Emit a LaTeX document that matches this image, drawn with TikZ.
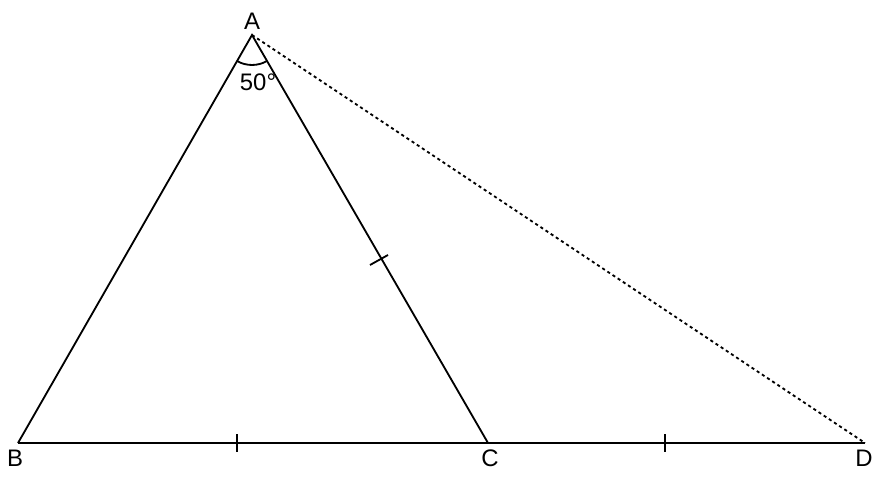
\documentclass[tikz,border=0pt]{standalone}
\usepackage{fontspec}
\setmainfont{Liberation Sans}
\usetikzlibrary{calc}

\begin{document}
\begin{tikzpicture}[x=0.025cm, y=-0.025cm, font=\fontsize{17}{19}\selectfont, line width=1.3pt]
        \useasboundingbox (0, 0) rectangle (878, 484);

        % Points of the figure
        \coordinate (A) at (252, 35);
        \coordinate (B) at (18, 443);
        \coordinate (C) at (488, 443);
        \coordinate (D) at (865, 443);

        % Draw the triangle and the extension
        \draw (B) -- (A) -- (C);
        \draw (B) -- (D);
        \draw[dash pattern=on 2.2pt off 2.2pt] (A) -- (D);

        % Angle at A
        \draw ($(A)+(240.2:30 and -30)$) arc[start angle=240.2, end angle=300, x radius=30, y radius=-30];
        \node (ang) at (258, 82) {50°};

        % Equal tick marks
        \foreach \x in {237, 665} {
                \draw (\x, 434) -- (\x, 452);
            }
        \draw (370, 265) -- (388, 255);

        % Label the points
        \node (lA) at (252, 21) {A};
        \node (lB) at (15, 458) {B};
        \node (lC) at (490, 458) {C};
        \node (lD) at (864, 458) {D};
    \end{tikzpicture}
\end{document}
